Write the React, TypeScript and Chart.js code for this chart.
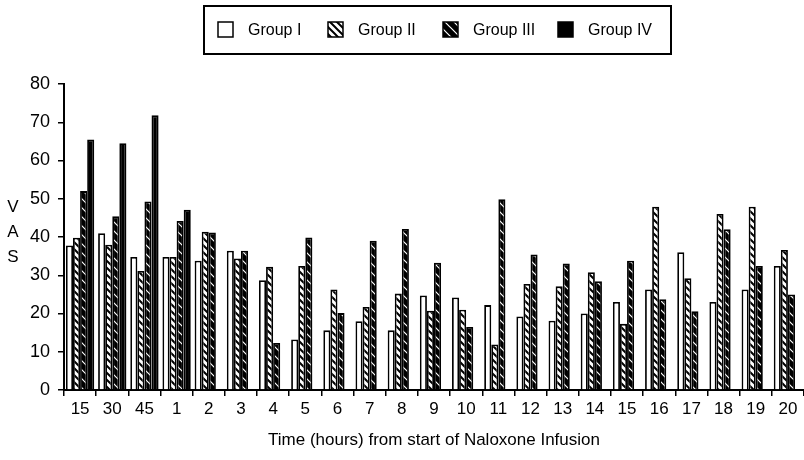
import React, { useEffect, useRef } from 'react';
import { Chart, registerables } from 'chart.js';

Chart.register(...registerables);

// ---- Data ----
const categories = ['15', '30', '45', '1', '2', '3', '4', '5', '6', '7', '8', '9', '10', '11', '12', '13', '14', '15', '16', '17', '18', '19', '20'];
const seriesNames = ['Group I', 'Group II', 'Group III', 'Group IV'];
const groupI = [37.8, 41.0, 34.8, 34.8, 33.8, 36.4, 28.7, 13.2, 15.6, 18.0, 15.6, 24.7, 24.2, 22.2, 19.2, 18.1, 20.0, 23.0, 26.3, 36.0, 23.0, 26.3, 32.4];
const groupII = [39.8, 38.0, 31.1, 34.8, 41.4, 34.4, 32.2, 32.4, 26.3, 21.7, 25.2, 20.7, 21.0, 11.9, 27.7, 27.1, 30.8, 17.3, 47.9, 29.2, 46.0, 47.9, 36.6];
const groupIII = [52.0, 45.4, 49.3, 44.2, 41.2, 36.4, 12.3, 39.9, 20.1, 39.0, 42.1, 33.3, 16.5, 49.9, 35.4, 33.1, 28.4, 33.8, 23.7, 20.6, 42.0, 32.4, 25.0];
const groupIV: (number | null)[] = [65.5, 64.5, 71.8, 47.1, null, null, null, null, null, null, null, null, null, null, null, null, null, null, null, null, null, null, null];
const yMin = 0;
const yMax = 80;
const yStep = 10;
const xTitle = 'Time (hours) from start of Naloxone Infusion';
const yTitleLetters = ['V', 'A', 'S'];

const FONT = '"Liberation Sans", Arial, Helvetica, sans-serif';

function makeHatch(bg: string, fg: string, period: number, lw: number): CanvasPattern | string {
  const c = document.createElement('canvas');
  c.width = period;
  c.height = period;
  const g = c.getContext('2d');
  if (!g) return bg;
  g.fillStyle = bg;
  g.fillRect(0, 0, period, period);
  g.strokeStyle = fg;
  g.lineWidth = lw;
  g.beginPath();
  // "\" direction lines
  g.moveTo(-period, 0); g.lineTo(period, 2 * period);
  g.moveTo(0, 0); g.lineTo(period, period);
  g.moveTo(0, -period); g.lineTo(2 * period, period);
  g.stroke();
  const p = g.createPattern(c, 'repeat');
  return p || bg;
}

const boxedLegend = {
  id: 'boxedLegend',
  afterDraw(chart: any) {
    const ctx = chart.ctx;
    const ds = chart.data.datasets;
    const iconX = [218, 328, 443, 558];
    const iconY = 22;
    const size = 15;
    ctx.save();
    ctx.lineWidth = 2;
    ctx.strokeStyle = '#000';
    ctx.strokeRect(204, 6, 467, 48);
    ctx.font = `16px ${FONT}`;
    ctx.textBaseline = 'middle';
    ctx.textAlign = 'left';
    ds.forEach((d: any, i: number) => {
      const x = iconX[i];
      ctx.fillStyle = d.backgroundColor;
      ctx.fillRect(x, iconY, size, size);
      ctx.lineWidth = 1.5;
      ctx.strokeStyle = '#000';
      ctx.strokeRect(x, iconY, size, size);
      ctx.fillStyle = '#000';
      ctx.fillText(d.label, x + 30, iconY + size / 2 + 1);
    });
    // vertical y-axis title letters
    ctx.font = `17px ${FONT}`;
    ctx.textAlign = 'center';
    const ys = [207, 232, 257];
    yTitleLetters.forEach((ch, i) => ctx.fillText(ch, 13, ys[i]));
    ctx.restore();
  },
};

export default function App() {
  const ref = useRef<HTMLCanvasElement | null>(null);
  useEffect(() => {
    document.body.style.margin = '0';
    const canvas = ref.current;
    if (!canvas) return;
    const hatchII = makeHatch('#fff', '#000', 7, 2);
    const hatchIII = makeHatch('#000', '#fff', 9, 1.2);
    const fills: any[] = ['#fff', hatchII, hatchIII, '#000'];
    const values = [groupI, groupII, groupIII, groupIV];
    const chart = new Chart(canvas, {
      type: 'bar',
      data: {
        labels: categories,
        datasets: seriesNames.map((name, i) => ({
          label: name,
          data: values[i] as any,
          backgroundColor: fills[i],
          borderColor: '#000',
          borderWidth: 1.8,
          barPercentage: 1.0,
          categoryPercentage: 0.88,
        })),
      },
      options: {
        responsive: false,
        animation: false,
        devicePixelRatio: 1,
        layout: { padding: { left: 0, right: -6, top: 84, bottom: 0 } },
        plugins: {
          legend: { display: false },
          tooltip: { enabled: false },
        },
        scales: {
          x: {
            offset: true,
            grid: { display: true, offset: true, drawOnChartArea: false, drawTicks: true, tickLength: 6, color: '#000', lineWidth: 1.5 },
            border: { display: true, color: '#000', width: 2 },
            ticks: { color: '#000', font: { family: FONT, size: 17 }, padding: 3, maxRotation: 0, autoSkip: false },
            title: { display: true, text: xTitle, color: '#000', font: { family: FONT, size: 17 }, padding: { top: 4, bottom: 9 } },
            afterFit: (s: any) => { s.height = 70; },
          },
          y: {
            min: yMin,
            max: yMax,
            ticks: { stepSize: yStep, color: '#000', font: { family: FONT, size: 18 }, padding: 8 },
            grid: { display: true, drawOnChartArea: false, drawTicks: true, tickLength: 6, color: '#000', lineWidth: 1.5 },
            border: { display: true, color: '#000', width: 2 },
            afterFit: (s: any) => { s.width = 64; },
          },
        },
      },
      plugins: [boxedLegend],
    });
    return () => chart.destroy();
  }, []);
  return <canvas ref={ref} width={804} height={460} style={{ display: 'block' }} />;
}
